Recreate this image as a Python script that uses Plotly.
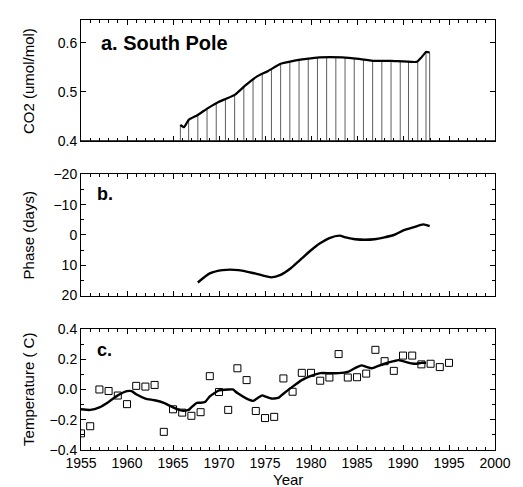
import plotly.graph_objects as go
from plotly.subplots import make_subplots

# ---- Panel a: South Pole CO2 seasonal amplitude record ----
co2_years = [1965.8, 1966.2, 1966.7, 1967.6, 1968.8, 1969.9, 1970.9, 1971.8, 1972.8,
             1974.1, 1975.3, 1976.7, 1978.1, 1979.5, 1980.9, 1983.4, 1985.2, 1986.9,
             1988.7, 1991.5, 1992.0, 1992.5, 1992.9]
co2_vals = [0.433, 0.428, 0.443, 0.452, 0.467, 0.479, 0.487, 0.495, 0.512,
            0.531, 0.542, 0.557, 0.563, 0.567, 0.570, 0.570, 0.567, 0.563,
            0.563, 0.561, 0.570, 0.581, 0.580]
co2_drop_years = [1965.8, 1966.7, 1967.7, 1968.7, 1969.7, 1970.7, 1971.7, 1972.7,
                  1973.7, 1974.7, 1975.7, 1976.7, 1977.7, 1978.7, 1979.7, 1980.7,
                  1981.7, 1982.7, 1983.7, 1984.7, 1985.7, 1986.7, 1987.7, 1988.7,
                  1989.7, 1990.6, 1991.6, 1992.5, 1992.9]
co2_base = 0.4

# ---- Panel b: phase ----
phase_years = [1967.7, 1969.0, 1970.4, 1972.1, 1973.9, 1975.7, 1976.7, 1977.8, 1978.8,
               1979.9, 1980.9, 1982.0, 1983.1, 1983.8, 1984.8, 1986.9, 1989.0, 1990.1,
               1991.1, 1992.2, 1992.9]
phase_vals = [15.7, 12.7, 11.6, 11.6, 12.7, 14.0, 13.2, 11.0, 8.3,
              5.3, 2.9, 1.0, 0.2, 0.8, 1.4, 1.4, 0.0, -1.6,
              -2.5, -3.5, -2.9]

# ---- Panel c: temperature ----
temp_years = list(range(1955, 1996))
temp_vals = [-0.29, -0.243, 0.00, -0.01, -0.04, -0.097, 0.024, 0.019, 0.03, -0.28,
             -0.131, -0.153, -0.174, -0.15, 0.088, -0.017, -0.135, 0.14, 0.062, -0.142,
             -0.189, -0.181, 0.073, -0.015, 0.11, 0.11, 0.058, 0.079, 0.234, 0.079,
             0.081, 0.105, 0.262, 0.187, 0.123, 0.224, 0.224, 0.166, 0.17, 0.148, 0.176]
smooth_years = [1955, 1956, 1957, 1958, 1959, 1960, 1960.5, 1961, 1962, 1963, 1964, 1965,
                1966, 1966.7, 1967, 1967.6, 1968, 1968.5, 1969, 1970, 1971, 1971.5, 1972,
                1973, 1973.7, 1974, 1974.7, 1975, 1975.7, 1976, 1976.5, 1977, 1978, 1979,
                1980, 1981, 1982, 1983, 1984, 1985, 1985.5, 1986, 1986.6, 1987, 1988, 1989,
                1989.5, 1990, 1991, 1991.5, 1992, 1992.5]
smooth_vals = [-0.131, -0.135, -0.118, -0.082, -0.039, -0.011, -0.011, -0.032, -0.06, -0.071,
               -0.088, -0.118, -0.14, -0.135, -0.118, -0.088, -0.088, -0.082, -0.045, -0.006,
               0.0, 0.0, -0.024, -0.06, -0.075, -0.065, -0.039, -0.045, -0.06, -0.06,
               -0.054, -0.028, 0.019, 0.062, 0.09, 0.108, 0.108, 0.108, 0.116, 0.148,
               0.159, 0.15, 0.14, 0.148, 0.17, 0.187, 0.194, 0.187, 0.172, 0.17, 0.176, 0.176]

x_range = [1955, 2000]
x_ticks = [1955, 1960, 1965, 1970, 1975, 1980, 1985, 1990, 1995, 2000]


def interp(x, xs, ys):
    for i in range(len(xs) - 1):
        if xs[i] <= x <= xs[i + 1]:
            t = (x - xs[i]) / (xs[i + 1] - xs[i]) if xs[i + 1] != xs[i] else 0
            return ys[i] + t * (ys[i + 1] - ys[i])
    return ys[-1] if x > xs[-1] else ys[0]


fig = make_subplots(rows=3, cols=1, shared_xaxes=False, vertical_spacing=0.0)

# baseline
fig.add_trace(go.Scatter(x=x_range, y=[co2_base, co2_base], mode="lines",
                         line=dict(color="black", width=1.5)), row=1, col=1)
# drops
dx, dy = [], []
for d in co2_drop_years:
    top = interp(d, co2_years, co2_vals)
    dx += [d, d, None]
    dy += [top, co2_base, None]
fig.add_trace(go.Scatter(x=dx, y=dy, mode="lines", line=dict(color="#333333", width=0.8)),
              row=1, col=1)
fig.add_trace(go.Scatter(x=co2_years, y=co2_vals, mode="lines",
                         line=dict(color="black", width=2.2, shape="spline", smoothing=0.4)),
              row=1, col=1)

fig.add_trace(go.Scatter(x=phase_years, y=phase_vals, mode="lines",
                         line=dict(color="black", width=2.4, shape="spline", smoothing=0.6)),
              row=2, col=1)

fig.add_trace(go.Scatter(x=temp_years, y=temp_vals, mode="markers",
                         marker=dict(symbol="square-open", size=7, color="black",
                                     line=dict(width=1, color="black"))),
              row=3, col=1)
fig.add_trace(go.Scatter(x=smooth_years, y=smooth_vals, mode="lines",
                         line=dict(color="black", width=2.4, shape="spline", smoothing=0.5)),
              row=3, col=1)

font_family = "Liberation Sans, Arial, Helvetica, sans-serif"
axis_common = dict(showline=True, linecolor="black", linewidth=1, mirror="ticks",
                   ticks="inside", tickcolor="black", showgrid=False, zeroline=False,
                   tickfont=dict(size=14, color="black", family=font_family))

for r in (1, 2, 3):
    fig.update_xaxes(range=x_range, tickvals=x_ticks, ticklen=5,
                     minor=dict(ticks="inside", dtick=1, ticklen=3, tickcolor="black"),
                     showticklabels=(r == 3), row=r, col=1, **axis_common)

fig.update_yaxes(range=[0.4, 0.646], tickvals=[0.4, 0.5, 0.6], ticktext=["0.4", "0.5", "0.6"],
                 ticklen=5, domain=[0.7185, 1.0], row=1, col=1, **axis_common)
fig.update_yaxes(range=[20, -20], tickvals=[-20, -10, 0, 10, 20],
                 ticktext=["\u221220", "\u221210", "0", "10", "20"], ticklen=5,
                 minor=dict(ticks="inside", dtick=5, ticklen=3, tickcolor="black"),
                 domain=[0.3593, 0.6407], row=2, col=1, **axis_common)
fig.update_yaxes(range=[-0.4, 0.4], tickvals=[-0.4, -0.2, 0.0, 0.2, 0.4],
                 ticktext=["\u22120.4", "\u22120.2", "0.0", "0.2", "0.4"], ticklen=5,
                 minor=dict(ticks="inside", dtick=0.1, ticklen=3, tickcolor="black"),
                 domain=[0.0, 0.2815], row=3, col=1, **axis_common)

title_font = dict(size=15, family=font_family, color="black")
ytitles = [("CO2 (umol/mol)", 0.859), ("Phase (days)", 0.50), ("Temperature ( C)", 0.1407)]
for txt, yc in ytitles:
    fig.add_annotation(text=txt, x=-0.127, y=yc, xref="paper", yref="paper",
                       xanchor="center", yanchor="middle", textangle=-90,
                       showarrow=False, font=title_font)
fig.add_annotation(text="Year", x=0.5, y=-0.068, xref="paper", yref="paper",
                   xanchor="center", yanchor="middle", showarrow=False, font=title_font)

fig.add_annotation(text="<b>a. South Pole</b>", x=1957.0, y=0.6, xref="x", yref="y",
                   xanchor="left", yanchor="middle", showarrow=False,
                   font=dict(size=20, family=font_family, color="black"))
fig.add_annotation(text="<b>b.</b>", x=1956.5, y=-13.5, xref="x2", yref="y2",
                   xanchor="left", yanchor="middle", showarrow=False,
                   font=dict(size=18, family=font_family, color="black"))
fig.add_annotation(text="<b>c.</b>", x=1956.5, y=0.26, xref="x3", yref="y3",
                   xanchor="left", yanchor="middle", showarrow=False,
                   font=dict(size=18, family=font_family, color="black"))

fig.update_layout(width=523, height=487, margin=dict(l=81, r=16, t=13, b=37),
                  paper_bgcolor="white", plot_bgcolor="white", showlegend=False,
                  font=dict(family=font_family, color="black"))

fig.write_html("out.html")
